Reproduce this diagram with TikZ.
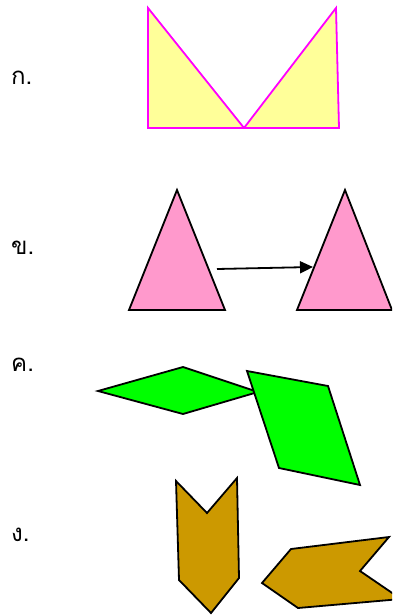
\documentclass[tikz,border=0pt]{standalone}
\usepackage{fontspec}
\newfontfamily\thaifont[Script=Thai]{Loma}
\usetikzlibrary{arrows.meta}
\definecolor{lyellow}{HTML}{FFFF99}
\definecolor{mag}{HTML}{FF00FF}
\definecolor{pinkf}{HTML}{FF99CC}
\definecolor{greenf}{HTML}{00FF00}
\definecolor{brownf}{HTML}{CC9900}
\tikzset{
  lbl/.style={anchor=west,inner sep=0pt,font=\thaifont\fontsize{24}{28}\selectfont},
  yel/.style={draw=mag,fill=lyellow,line width=1.8pt,line join=miter},
  shp/.style={draw=black,line width=1.8pt,line join=miter},
}
\begin{document}
\begin{tikzpicture}[x=1pt,y=-1pt]
\useasboundingbox (0,0) rectangle (392,615);
\clip (0,0) rectangle (392,615);
% labels
\node[lbl] (l1) at (11,78) {ก.};
\node[lbl] (l2) at (11,248) {ข.};
\node[lbl] (l3) at (11,365) {ค.};
\node[lbl] (l4) at (11,535) {ง.};
% yellow triangles
\draw[yel] (148,8) -- (148,128) -- (244,128) -- cycle;
\draw[yel] (336,8) -- (339,128) -- (244,128) -- cycle;
% pink triangles
\draw[shp,fill=pinkf] (177,190) -- (225,310) -- (129,310) -- cycle;
\draw[shp,fill=pinkf] (345,190) -- (392,310) -- (297,310) -- cycle;
\coordinate (a1) at (217,269);
\coordinate (a2) at (313,267);
\draw[line width=1.8pt,-{Triangle[length=13pt,width=12pt]}] (a1) -- (a2);
% green shapes
\draw[shp,fill=greenf] (98,391) -- (183,367) -- (258,392) -- (183,414) -- cycle;
\draw[shp,fill=greenf] (247,371) -- (328,386) -- (360,485) -- (279,468) -- cycle;
% brown shapes
\draw[shp,fill=brownf] (176,481) -- (207,513) -- (237,478) -- (239,578) -- (211,613) -- (179,580) -- cycle;
\draw[shp,fill=brownf] (262,583) -- (291,549) -- (389,537) -- (360,571) -- (401,599) -- (298,608) -- cycle;
\end{tikzpicture}
\end{document}
